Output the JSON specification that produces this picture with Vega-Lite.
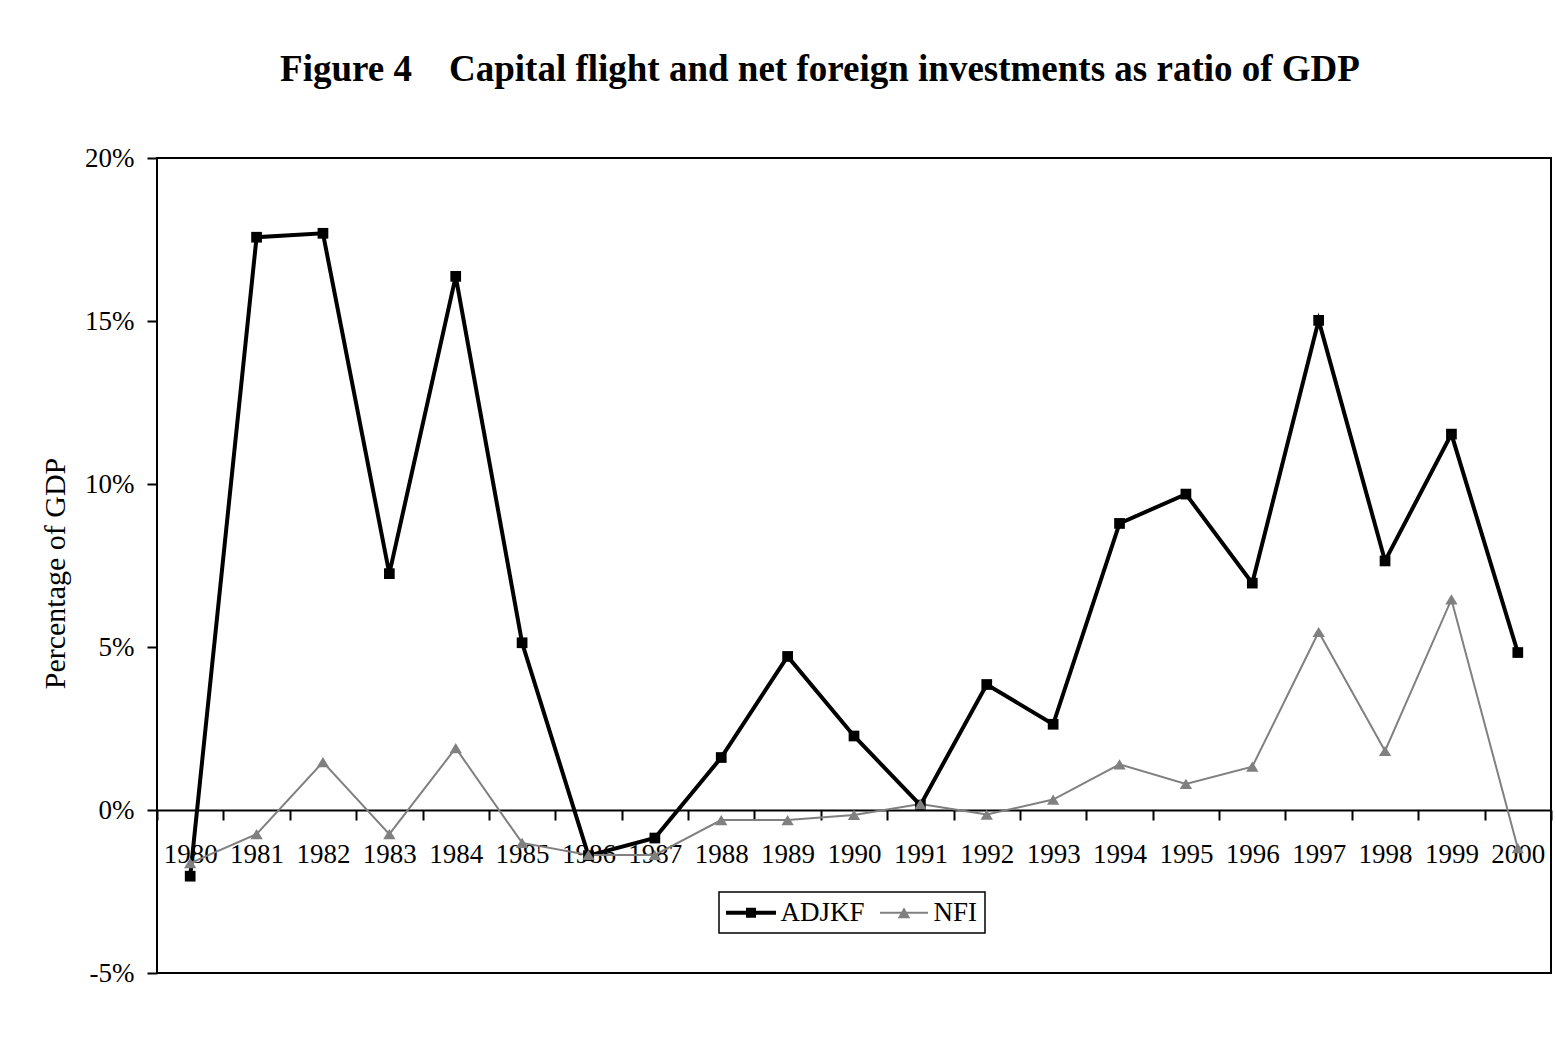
{
  "$schema": "https://vega.github.io/schema/vega-lite/v6.json",
  "width": 1394,
  "height": 815,
  "autosize": "none",
  "padding": {"left": 157, "top": 158, "right": 5, "bottom": 91},
  "background": "white",
  "title": {
    "text": "Figure 4\u00a0\u00a0\u00a0\u00a0Capital flight and net foreign investments as ratio of GDP",
    "font": "Liberation Serif",
    "fontSize": 37,
    "fontWeight": "bold",
    "color": "black",
    "anchor": "middle",
    "frame": "group",
    "baseline": "alphabetic",
    "offset": 77,
    "dx": -34,
    "dy": 51
  },
  "config": {
    "view": {"stroke": "black", "strokeWidth": 2},
    "font": "Liberation Serif"
  },
  "data": {
    "values": [
      {"year": "1980", "series": "ADJKF", "value": -2.03},
      {"year": "1981", "series": "ADJKF", "value": 17.57},
      {"year": "1982", "series": "ADJKF", "value": 17.69},
      {"year": "1983", "series": "ADJKF", "value": 7.25},
      {"year": "1984", "series": "ADJKF", "value": 16.37},
      {"year": "1985", "series": "ADJKF", "value": 5.13},
      {"year": "1986", "series": "ADJKF", "value": -1.4},
      {"year": "1987", "series": "ADJKF", "value": -0.86},
      {"year": "1988", "series": "ADJKF", "value": 1.61},
      {"year": "1989", "series": "ADJKF", "value": 4.71},
      {"year": "1990", "series": "ADJKF", "value": 2.27},
      {"year": "1991", "series": "ADJKF", "value": 0.15},
      {"year": "1992", "series": "ADJKF", "value": 3.85},
      {"year": "1993", "series": "ADJKF", "value": 2.63},
      {"year": "1994", "series": "ADJKF", "value": 8.79},
      {"year": "1995", "series": "ADJKF", "value": 9.69},
      {"year": "1996", "series": "ADJKF", "value": 6.96},
      {"year": "1997", "series": "ADJKF", "value": 15.02},
      {"year": "1998", "series": "ADJKF", "value": 7.64},
      {"year": "1999", "series": "ADJKF", "value": 11.53},
      {"year": "2000", "series": "ADJKF", "value": 4.83},
      {"year": "1980", "series": "NFI", "value": -1.63},
      {"year": "1981", "series": "NFI", "value": -0.74},
      {"year": "1982", "series": "NFI", "value": 1.47},
      {"year": "1983", "series": "NFI", "value": -0.74},
      {"year": "1984", "series": "NFI", "value": 1.9},
      {"year": "1985", "series": "NFI", "value": -1.01},
      {"year": "1986", "series": "NFI", "value": -1.38},
      {"year": "1987", "series": "NFI", "value": -1.38},
      {"year": "1988", "series": "NFI", "value": -0.31},
      {"year": "1989", "series": "NFI", "value": -0.31},
      {"year": "1990", "series": "NFI", "value": -0.15},
      {"year": "1991", "series": "NFI", "value": 0.18},
      {"year": "1992", "series": "NFI", "value": -0.14},
      {"year": "1993", "series": "NFI", "value": 0.32},
      {"year": "1994", "series": "NFI", "value": 1.4},
      {"year": "1995", "series": "NFI", "value": 0.8},
      {"year": "1996", "series": "NFI", "value": 1.33},
      {"year": "1997", "series": "NFI", "value": 5.46},
      {"year": "1998", "series": "NFI", "value": 1.81},
      {"year": "1999", "series": "NFI", "value": 6.46},
      {"year": "2000", "series": "NFI", "value": -1.17}
    ]
  },
  "encoding": {
    "x": {
      "field": "year",
      "type": "ordinal",
      "bandPosition": 0.5,
      "scale": {"type": "band", "paddingInner": 0, "paddingOuter": 0},
      "axis": {
        "title": null,
        "orient": "bottom",
        "offset": -163,
        "labelAngle": 0,
        "tickBand": "extent",
        "tickSize": 10,
        "tickColor": "black",
        "tickWidth": 2,
        "domainColor": "black",
        "domainWidth": 2,
        "labelFont": "Liberation Serif",
        "labelFontSize": 27,
        "labelColor": "black",
        "labelPadding": 21,
        "labelOverlap": false,
        "grid": false
      }
    },
    "y": {
      "field": "value",
      "type": "quantitative",
      "scale": {"domain": [-5, 20], "nice": false, "zero": false},
      "axis": {
        "title": "Percentage of GDP",
        "values": [-5, 0, 5, 10, 15, 20],
        "labelExpr": "datum.value + '%'",
        "domain": false,
        "grid": false,
        "tickSize": 10,
        "tickColor": "black",
        "tickWidth": 2,
        "labelFont": "Liberation Serif",
        "labelFontSize": 27,
        "labelColor": "black",
        "labelPadding": 13,
        "titleFont": "Liberation Serif",
        "titleFontSize": 30,
        "titleFontWeight": "normal",
        "titleColor": "black",
        "titlePadding": 14,
        "titleY": 415
      }
    }
  },
  "layer": [
    {
      "mark": {"type": "line"},
      "encoding": {
        "strokeWidth": {
          "field": "series",
          "type": "nominal",
          "scale": {"type": "ordinal", "range": [4, 2]},
          "legend": null
        },
        "color": {
          "field": "series",
          "type": "nominal",
          "scale": {"domain": ["ADJKF", "NFI"], "range": ["black", "#808080"]},
          "legend": {
            "title": null,
            "orient": "none",
            "legendX": 562,
            "legendY": 734,
            "direction": "horizontal",
            "symbolSize": 729,
            "symbolOffset": 11.5,
            "symbolStrokeWidth": 0,
            "labelOffset": 16,
            "columnPadding": 14,
            "padding": 7,
            "labelFont": "Liberation Serif",
            "labelFontSize": 27,
            "labelColor": "black",
            "strokeColor": "black",
            "encode": {
              "symbols": {
                "update": {
                  "shape": {"signal": "datum.value === 'ADJKF' ? 'M-1.85,-0.15H1.85V0.15H-1.85Z M-0.37,-0.37H0.37V0.37H-0.37Z' : 'M-1.78,-0.07H1.78V0.07H-1.78Z M0,-0.4L0.46,0.4H-0.46Z'"},
                  "fill": {"signal": "datum.value === 'ADJKF' ? 'black' : '#808080'"},
                  "fillOpacity": {"value": 1},
                  "opacity": {"value": 1},
                  "strokeWidth": {"value": 0}
                }
              },
              "legend": {
                "update": {"stroke": {"value": "black"}, "strokeWidth": {"value": 1.5}}
              }
            }
          }
        }
      }
    },
    {
      "mark": {"type": "point", "filled": true, "opacity": 1, "size": 115},
      "encoding": {
        "fill": {
          "field": "series",
          "type": "nominal",
          "scale": {"range": ["black", "#808080"]},
          "legend": null
        },
        "shape": {
          "field": "series",
          "type": "nominal",
          "scale": {"range": ["square", "M0,-0.95L1.15,0.95H-1.15Z"]},
          "legend": null
        }
      }
    }
  ]
}
